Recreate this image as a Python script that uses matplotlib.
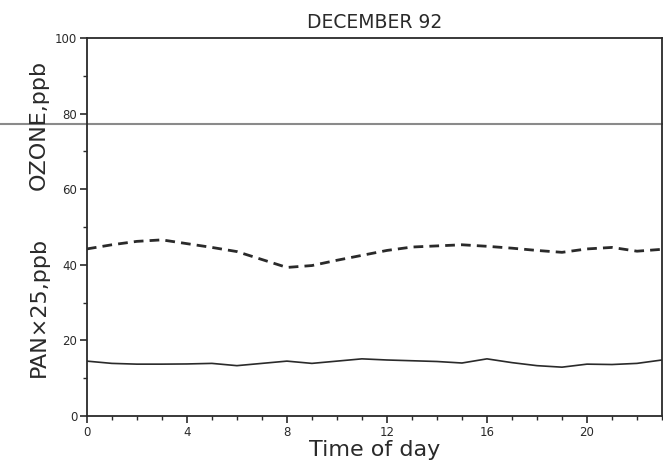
import matplotlib
matplotlib.use("Agg")
import matplotlib.pyplot as plt
import matplotlib.transforms as mtransforms
import numpy as np

hours = list(range(24))
ozone = [44.2, 45.3, 46.2, 46.6, 45.6, 44.6, 43.5, 41.4, 39.3, 39.8, 41.2, 42.5,
         43.8, 44.7, 45.0, 45.3, 44.9, 44.4, 43.8, 43.3, 44.2, 44.6, 43.6, 44.1]
pan_x25 = [14.5, 13.9, 13.7, 13.7, 13.75, 13.9, 13.3, 13.9, 14.5, 13.9, 14.5, 15.1,
           14.8, 14.6, 14.4, 14.0, 15.1, 14.1, 13.3, 12.9, 13.7, 13.6, 13.9, 14.8]
xticks = [0, 4, 8, 12, 16, 20]
yticks = [0, 20, 40, 60, 80, 100]
scan_line_level = 77.2

fig = plt.figure(figsize=(6.63, 4.71), dpi=100)
ax = fig.add_axes([0.131, 0.117, 0.8675, 0.802])
ink = "#2a2a2a"

ax.plot(hours, ozone, color=ink, lw=2.0, dashes=(3.5, 2.2))
ax.plot(hours, pan_x25, color=ink, lw=1.2)

ax.set_xlim(0, 23)
ax.set_ylim(0, 100)
ax.set_xticks(xticks)
ax.set_yticks(yticks)
ax.set_xticks(np.arange(0, 24, 1), minor=True)
ax.set_yticks(np.arange(0, 101, 10), minor=True)
ax.tick_params(which="major", direction="out", length=5, width=1.2, colors=ink,
               labelsize=8.5, pad=2)
ax.tick_params(which="minor", direction="out", length=3, width=1.0, colors=ink)
for s in ax.spines.values():
    s.set_color(ink)
    s.set_linewidth(1.3)

# scanner artifact line across the page
trans = mtransforms.blended_transform_factory(fig.transFigure, ax.transData)
ax.plot([0, 1], [scan_line_level, scan_line_level], transform=trans, color="#8a8a8a",
        lw=1.5, clip_on=False)

ax.set_title("DECEMBER 92", fontsize=13.5, color=ink, pad=7)
ax.set_xlabel("Time of day", fontsize=16, color=ink, labelpad=1)
fig.text(0.059, 0.735, "OZONE,ppb", rotation=90, ha="center", va="center",
         fontsize=16, color=ink)
fig.text(0.059, 0.348, "PAN×25,ppb", rotation=90, ha="center", va="center",
         fontsize=16, color=ink)

fig.savefig("out.png", dpi=100)
